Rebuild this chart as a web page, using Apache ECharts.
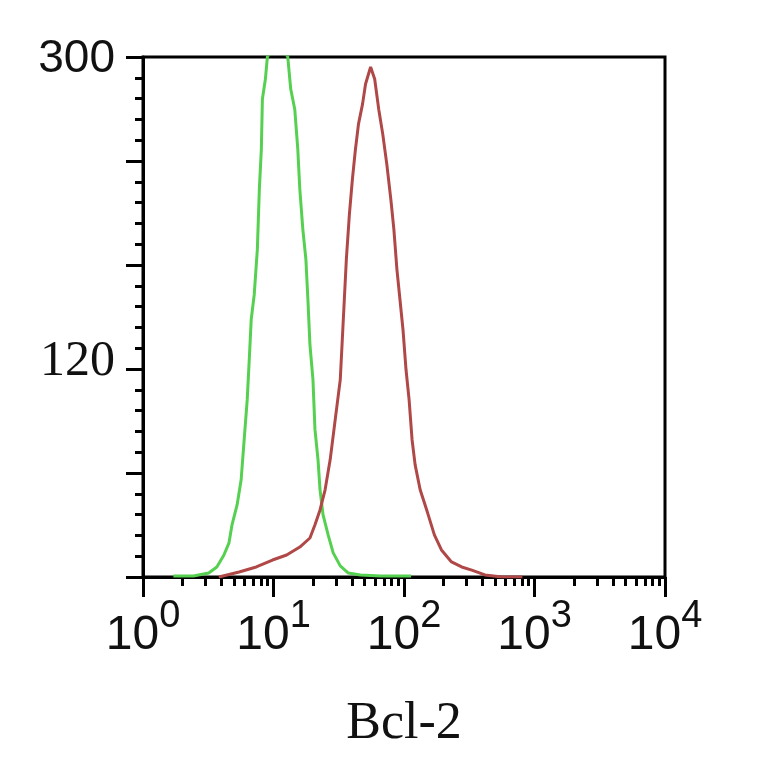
<!DOCTYPE html>
<html>
<head>
<meta charset="utf-8">
<script src="https://cdn.jsdelivr.net/npm/echarts@6/dist/echarts.min.js"></script>
<style>html,body{margin:0;padding:0;background:#fff}#c{width:764px;height:764px}</style>
</head>
<body>
<div id="c"></div>
<script>
// Green (control) histogram: fluorescence intensity, cell count
const greenX = [1.71,2.44,3.19,3.68,4.17,4.56,4.81,5.26,5.65,5.96,6.29,6.52,6.75,7.12,7.52,7.79,8.07,8.22,8.67,8.99,10.74,12.84,13.55,14.55,15.35,15.91,16.78,17.71,18.35,19.02,20.06,20.79,21.94,22.73,23.98,26.22,28.67,32.48,37.46,46.42,66.33,113.3];
const greenY = [0.6,0.6,2.3,5.8,12.7,19.7,30.1,41.6,56.1,79.2,102.3,125.4,148.6,163.0,189.0,223.7,246.8,275.7,287.3,300.6,305,300.6,281.5,269.9,246.8,223.7,200.6,183.2,160.1,134.1,113.9,85.0,67.6,50.3,35.8,24.3,13.9,6.4,2.3,1.2,0.6,0.6];
// Red (Bcl-2) histogram
const redX = [3.81,5.45,7.38,9.82,12.61,15.91,19.02,20.79,22.73,24.85,27.17,29.71,32.48,33.67,34.89,36.16,38.15,40.24,42.46,44.79,48.11,50.74,55.49,59.61,64.01,68.74,73.82,79.28,83.64,88.24,93.11,98.22,103.6,109.4,115.3,121.7,133.0,150.8,170.9,193.6,231.3,276.7,330.7,417.2,564.9,807.3];
const redY = [0,2.9,5.8,9.8,12.7,17.3,22.5,30.1,38.7,50.3,67.6,90.8,113.9,137.0,160.1,183.2,209.2,229.5,246.8,261.3,272.8,284.4,294.2,287.3,269.9,255.5,238.2,217.9,200.6,177.5,160.1,142.8,119.7,102.3,79.2,64.7,50.3,37.6,24.3,15.6,8.7,5.8,4.0,1.2,0,0];
// Tick labels
const yLabelValues = [120, 300];
const xAxisTitle = 'Bcl-2';

const pair = (xs, ys) => xs.map((x, i) => [x, ys[i]]);

const chart = echarts.init(document.getElementById('c'), null, {renderer: 'canvas'});
chart.setOption({
  animation: false,
  backgroundColor: '#fff',
  grid: {left: 143, right: 99, top: 57, bottom: 187, outerBoundsMode: 'none', containLabel: false,
         show: true, borderColor: '#000', borderWidth: 3, backgroundColor: 'transparent'},
  xAxis: {
    type: 'log', logBase: 10, min: 1, max: 10000,
    name: xAxisTitle, nameLocation: 'middle', nameGap: 121,
    nameTextStyle: {fontFamily: 'Liberation Serif', fontSize: 52, color: '#111'},
    axisLine: {lineStyle: {color: '#000', width: 3}},
    axisTick: {length: 20, lineStyle: {color: '#000', width: 3}},
    minorTick: {show: true, splitNumber: 9, length: 9, lineStyle: {color: '#000', width: 3}},
    splitLine: {show: false},
    axisLabel: {
      margin: 21,
      formatter: v => '{b|10}{s|' + Math.round(Math.log10(v)) + '}',
      rich: {
        b: {fontFamily: 'Liberation Sans', fontSize: 48, padding: [14, 0, 0, 0], color: '#111'},
        s: {fontFamily: 'Liberation Sans', fontSize: 38, lineHeight: 38, verticalAlign: 'top', color: '#111'}
      }
    }
  },
  yAxis: {
    type: 'value', min: 0, max: 300, interval: 60,
    axisLine: {show: true, lineStyle: {color: '#000', width: 3}},
    axisTick: {show: true, length: 17, lineStyle: {color: '#000', width: 3}},
    minorTick: {show: true, splitNumber: 5, length: 8, lineStyle: {color: '#000', width: 3}},
    splitLine: {show: false},
    axisLabel: {
      margin: 28,
      formatter: v => v === yLabelValues[1] ? '{s|' + v + '}' : (v === yLabelValues[0] ? '{t|' + v + '}' : ''),
      rich: {
        s: {fontFamily: 'Liberation Sans', fontSize: 46, color: '#111', padding: [4, 0, 0, 0]},
        t: {fontFamily: 'Liberation Serif', fontSize: 50, color: '#111', padding: [0, 0, 14, 0]}
      }
    }
  },
  series: [
    {type: 'line', data: pair(greenX, greenY), showSymbol: false, clip: true,
     lineStyle: {color: '#55d050', width: 3}},
    {type: 'line', data: pair(redX, redY), showSymbol: false, clip: true,
     lineStyle: {color: '#b04848', width: 3}}
  ]
});
</script>
</body>
</html>
